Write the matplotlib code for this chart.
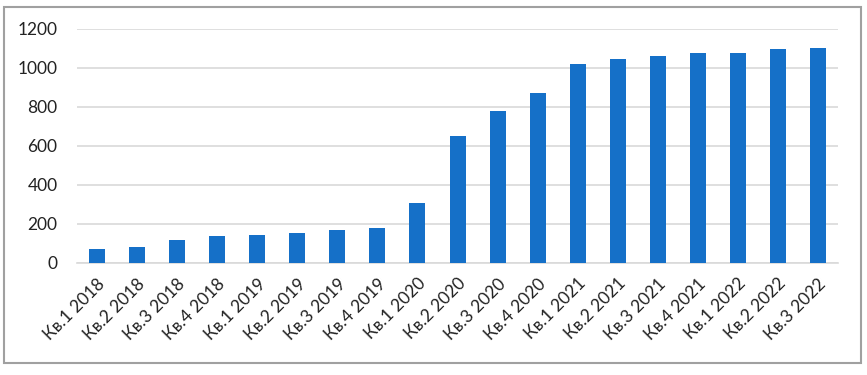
import matplotlib.pyplot as plt
from matplotlib.patches import Rectangle

quarters = ["Кв.1 2018", "Кв.2 2018", "Кв.3 2018", "Кв.4 2018",
            "Кв.1 2019", "Кв.2 2019", "Кв.3 2019", "Кв.4 2019",
            "Кв.1 2020", "Кв.2 2020", "Кв.3 2020", "Кв.4 2020",
            "Кв.1 2021", "Кв.2 2021", "Кв.3 2021", "Кв.4 2021",
            "Кв.1 2022", "Кв.2 2022", "Кв.3 2022"]
values = [70, 84, 116, 137, 145, 154, 169, 181, 306,
          650, 781, 870, 1022, 1044, 1060, 1075, 1075, 1097, 1104]
yticks = [0, 200, 400, 600, 800, 1000, 1200]

plt.rcParams['font.family'] = ['Lato', 'DejaVu Sans']

fig = plt.figure(figsize=(8.67, 3.75), dpi=100)
ax = fig.add_axes([0.0888, 0.2987, 0.8778, 0.624])

x = range(len(quarters))
ax.bar(x, values, width=0.4, color="#1570C8", zorder=3)

ax.set_xlim(-0.5, len(quarters) - 0.5)
ax.set_ylim(0, 1200)
ax.set_yticks(yticks)
ax.set_yticklabels([str(v) for v in yticks], fontsize=12.5, color="#222222")
ax.set_xticks(list(x))
ax.set_xticklabels(quarters, rotation=45, ha="right", va="top",
                   rotation_mode="anchor", fontsize=12.5, color="#222222")

ax.grid(axis="y", color="#d9d9d9", linewidth=1.2, zorder=0)
ax.tick_params(axis="both", length=0)
ax.tick_params(axis="y", pad=14)
ax.tick_params(axis="x", pad=9)
for s in ["top", "right", "left"]:
    ax.spines[s].set_visible(False)
ax.spines["bottom"].set_color("#d9d9d9")
ax.spines["bottom"].set_linewidth(1.2)

# outer frame around the chart
fig.patches.append(Rectangle((4 / 867, 1 - 363 / 375), 857 / 867, 356 / 375,
                             transform=fig.transFigure, fill=False,
                             edgecolor="#a0a0a0", linewidth=1.5))

fig.savefig("out.png", dpi=100)
